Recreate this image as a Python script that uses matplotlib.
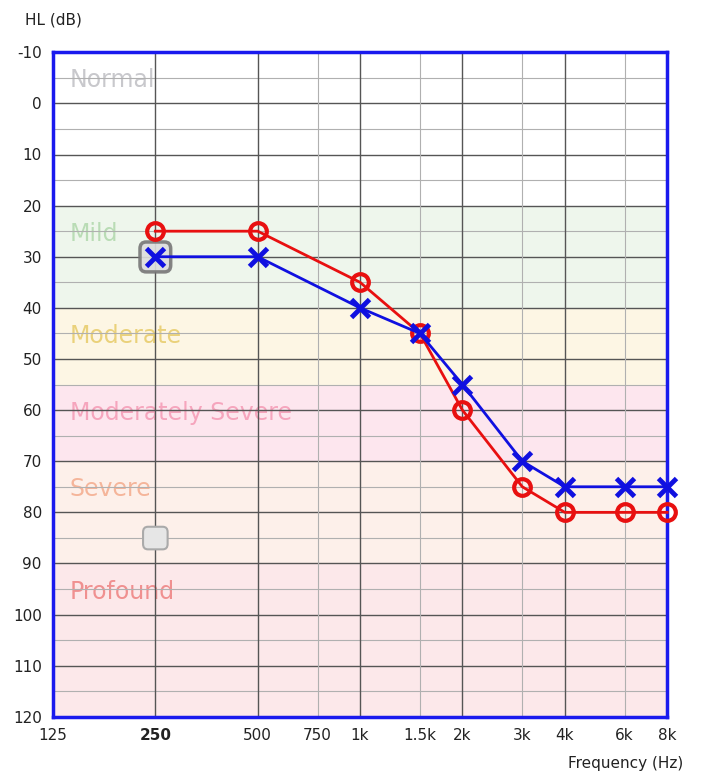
import matplotlib
matplotlib.use("Agg")
import matplotlib.pyplot as plt
from matplotlib.patches import FancyBboxPatch

freqs = [250, 500, 1000, 1500, 2000, 3000, 4000, 6000, 8000]
right_ear = [25, 25, 35, 45, 60, 75, 80, 80, 80]
left_ear = [30, 30, 40, 45, 55, 70, 75, 75, 75]
xticks = [125, 250, 500, 750, 1000, 1500, 2000, 3000, 4000, 6000, 8000]
xlabels = ["125", "250", "500", "750", "1k", "1.5k", "2k", "3k", "4k", "6k", "8k"]
yticks = list(range(-10, 121, 10))
ylabels = [str(v) for v in yticks]
bands = [("Normal", -10, 20, "#ffffff", "#c8c8cc"),
         ("Mild", 20, 40, "#eef6ec", "#b9dcb5"),
         ("Moderate", 40, 55, "#fdf6e4", "#ead17a"),
         ("Moderately Severe", 55, 70, "#fde6ee", "#f6a5bd"),
         ("Severe", 70, 90, "#fdf0ea", "#f5b59a"),
         ("Profound", 90, 120, "#fce8ea", "#f09090")]

fig = plt.figure(figsize=(7.06, 7.80), dpi=100)
ax = fig.add_axes([0.075, 0.081, 0.87, 0.852])
ax.set_xscale("log")
ax.set_xlim(125, 8000)
ax.set_ylim(120, -10)

for name, lo, hi, col, tcol in bands:
    ax.axhspan(lo, hi, color=col, zorder=0, lw=0)
    ax.text(140, lo + 5.5, name, color=tcol, fontsize=17, va="center", ha="left", zorder=1)

for y in range(-10, 121, 5):
    major = y % 10 == 0
    ax.axhline(y, color="#555555" if major else "#b0b0b0", lw=1.0 if major else 0.8, zorder=1)
for f in xticks:
    major = f in (125, 250, 500, 1000, 2000, 4000, 8000)
    ax.axvline(f, color="#555555" if major else "#b0b0b0", lw=1.0 if major else 0.8, zorder=1)

ax.add_patch(FancyBboxPatch((0.1417, 0.6695), 0.05, 0.045, boxstyle="round,pad=0,rounding_size=0.01",
                            transform=ax.transAxes, fc="#dddddd", ec="#777777", lw=2.5, zorder=2, alpha=0.9))
ax.add_patch(FancyBboxPatch((0.1467, 0.252), 0.04, 0.034, boxstyle="round,pad=0,rounding_size=0.008",
                            transform=ax.transAxes, fc="#e6e6e6", ec="#aaaaaa", lw=1.5, zorder=2))

ax.plot(freqs, right_ear, color="#e81010", lw=2, marker="o", ms=12, mfc="none", mew=3, zorder=4, clip_on=False)
ax.plot(freqs, left_ear, color="#1010e0", lw=2, marker="x", ms=13, mew=3.5, zorder=5, clip_on=False)

ax.set_xticks(xticks)
ax.set_xticklabels(xlabels)
ax.minorticks_off()
ax.get_xticklabels()[1].set_fontweight("bold")
ax.set_yticks(yticks)
ax.set_yticklabels(ylabels)
ax.tick_params(length=0, labelsize=11, pad=8, colors="#222222")
for s in ax.spines.values():
    s.set_color("#1a1aee")
    s.set_linewidth(2.5)
fig.text(0.035, 0.968, "HL (dB)", fontsize=11, color="#222222")
fig.text(0.968, 0.015, "Frequency (Hz)", fontsize=11, color="#222222", ha="right")
fig.savefig("out.png", dpi=100)
